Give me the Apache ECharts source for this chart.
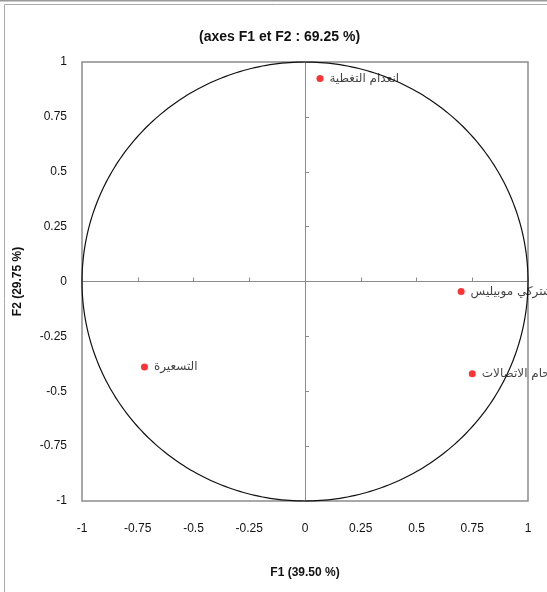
<!DOCTYPE html>
<html>
<head>
<meta charset="utf-8">
<script src="https://cdn.jsdelivr.net/npm/echarts@6/dist/echarts.min.js"></script>
<style>
  html, body { margin: 0; padding: 0; background: #fff; }
  #chart { width: 547px; height: 592px; }
</style>
</head>
<body>
<div id="chart"></div>
<script>
// Correlation circle: variables projected on factors F1 and F2
const variableNames = ['انعدام التغطية', 'مشتركي موبيليس', 'ازدحام الاتصالات', 'التسعيرة'];
const f1Values = [0.067, 0.70, 0.75, -0.72];
const f2Values = [0.925, -0.046, -0.42, -0.39];
const tickValues = [-1, -0.75, -0.5, -0.25, 0, 0.25, 0.5, 0.75, 1];

const chartTitle = '(axes F1 et F2 : 69.25 %)';
const xAxisName = 'F1 (39.50 %)';
const yAxisName = 'F2 (29.75 %)';

const points = variableNames.map((name, i) => ({ name: name, value: [f1Values[i], f2Values[i]] }));

const chart = echarts.init(document.getElementById('chart'), null, { renderer: 'canvas' });

const labelFont = { fontFamily: 'Liberation Sans, Arial, sans-serif', fontSize: 12, color: '#111' };

const valueAxisBase = {
  type: 'value',
  min: tickValues[0],
  max: tickValues[tickValues.length - 1],
  interval: tickValues[1] - tickValues[0],
  splitLine: { show: false }
};

chart.setOption({
  backgroundColor: '#fff',
  animation: false,
  title: {
    text: chartTitle,
    left: 194,
    top: 25,
    textStyle: { fontFamily: 'Liberation Sans, Arial, sans-serif', fontWeight: 'bold', fontSize: 14, color: '#111' }
  },
  graphic: [
    { type: 'line', shape: { x1: 0, y1: 0.5, x2: 547, y2: 0.5 }, style: { stroke: '#999', lineWidth: 2 } },
    { type: 'rect', shape: { x: 4.5, y: 4.5, width: 600, height: 600 }, style: { fill: 'none', stroke: '#aaa', lineWidth: 1 } }
  ],
  grid: { left: 82, top: 62, width: 446, height: 439, show: true, borderColor: '#8c8c8c', borderWidth: 1.5 },
  xAxis: [
    Object.assign({}, valueAxisBase, {
      position: 'bottom',
      axisLine: { show: false, onZero: false },
      axisTick: { show: false },
      axisLabel: Object.assign({ margin: 22 }, labelFont),
      name: xAxisName,
      nameLocation: 'middle',
      nameGap: 66,
      nameTextStyle: { fontFamily: 'Liberation Sans, Arial, sans-serif', fontWeight: 'bold', fontSize: 12, color: '#111' }
    }),
    Object.assign({}, valueAxisBase, {
      position: 'bottom',
      axisLine: { show: true, onZero: true, lineStyle: { color: '#8c8c8c', width: 1 } },
      axisTick: { show: true, inside: true, length: 4, lineStyle: { color: '#8c8c8c' } },
      axisLabel: { show: false }
    })
  ],
  yAxis: [
    Object.assign({}, valueAxisBase, {
      position: 'left',
      axisLine: { show: false, onZero: false },
      axisTick: { show: false },
      axisLabel: Object.assign({ margin: 15 }, labelFont),
      name: yAxisName,
      nameLocation: 'middle',
      nameGap: 58,
      nameRotate: 90,
      nameTextStyle: { fontFamily: 'Liberation Sans, Arial, sans-serif', fontWeight: 'bold', fontSize: 12, color: '#111' }
    }),
    Object.assign({}, valueAxisBase, {
      position: 'left',
      axisLine: { show: true, onZero: true, lineStyle: { color: '#8c8c8c', width: 1 } },
      axisTick: { show: true, inside: true, length: 4, lineStyle: { color: '#8c8c8c' } },
      axisLabel: { show: false }
    })
  ],
  series: [
    {
      // unit circle drawn through the axis scales
      type: 'custom',
      xAxisIndex: 0,
      yAxisIndex: 0,
      silent: true,
      data: [[0, 0]],
      renderItem: function (params, api) {
        const pts = [];
        for (let k = 0; k <= 360; k++) {
          const a = k * Math.PI / 180;
          pts.push(api.coord([Math.cos(a), Math.sin(a)]));
        }
        return {
          type: 'polyline',
          shape: { points: pts },
          style: { stroke: '#111', lineWidth: 1.2, fill: 'none' }
        };
      },
      z: 3
    },
    {
      type: 'scatter',
      xAxisIndex: 0,
      yAxisIndex: 0,
      symbol: 'circle',
      symbolSize: 7,
      itemStyle: { color: '#ff0000' },
      data: points,
      label: {
        show: true,
        position: 'right',
        distance: 6,
        formatter: p => p.name,
        fontFamily: 'DejaVu Sans, sans-serif',
        fontSize: 12,
        color: '#111'
      },
      z: 5
    }
  ]
});
</script>
</body>
</html>
